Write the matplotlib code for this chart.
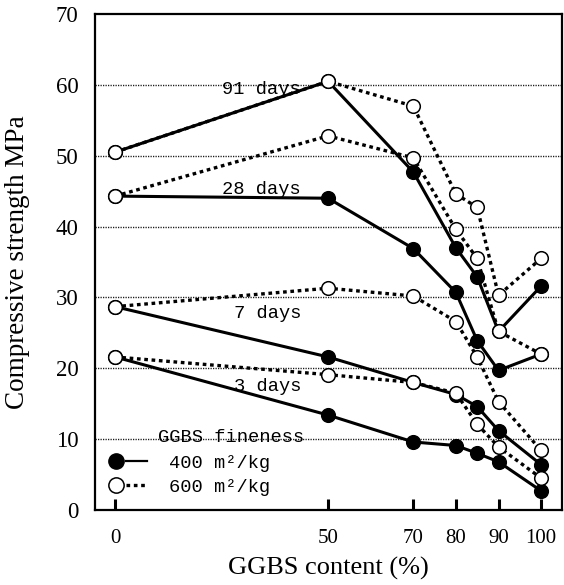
import matplotlib
matplotlib.use("Agg")
import matplotlib.pyplot as plt
from matplotlib.lines import Line2D
from matplotlib.legend_handler import HandlerTuple

# --- datos ---
ggbs = [0, 50, 70, 80, 85, 90, 100]
xticks = [0, 50, 70, 80, 90, 100]

f400_3d = [21.6, 13.4, 9.6, 9.1, 8.0, 6.8, 2.7]
f400_7d = [28.7, 21.6, 18.0, 16.3, 14.6, 11.2, 6.4]
f400_28d = [44.3, 44.0, 36.9, 30.7, 23.9, 19.7, 22.0]
f400_91d = [50.5, 60.5, 47.7, 37.0, 32.9, 25.2, 31.6]

f600_3d = [21.6, 19.1, 18.0, 16.5, 12.1, 8.9, 4.5]
f600_7d = [28.7, 31.3, 30.2, 26.6, 21.6, 15.3, 8.4]
f600_28d = [44.3, 52.8, 49.7, 39.6, 35.5, 25.2, 22.0]
f600_91d = [50.5, 60.5, 57.0, 44.6, 42.7, 30.3, 35.5]

ages = ['3 days', '7 days', '28 days', '91 days']
label_pos = {'91 days': (25, 59.3), '28 days': (25, 45.3),
             '7 days': (28, 27.8), '3 days': (28, 17.4)}

serif = 'Liberation Serif'
mono = 'Liberation Mono'

fig = plt.figure(figsize=(5.64, 5.85), dpi=100)
ax = fig.add_axes([95/564, 1 - 510/585, 467/564, 496/585])

# lineas de rejilla punteadas
for y in range(10, 70, 10):
    ax.axhline(y, color='0.1', lw=1.0, ls=(0, (0.9, 0.9)), zorder=0)

# 400 m2/kg: linea continua, circulo negro
for s in [f400_91d, f400_28d, f400_7d, f400_3d]:
    ax.plot(ggbs, s, color='black', lw=2.2, marker='o', ms=9.8,
            mfc='black', mec='black', mew=1.1, zorder=2)

# 600 m2/kg: linea punteada, circulo blanco
for s in [f600_91d, f600_28d, f600_7d, f600_3d]:
    ax.plot(ggbs, s, color='black', lw=2.4, ls=(0, (1.1, 1.1)),
            marker='o', ms=9.8, mfc='white', mec='black', mew=1.1, zorder=3)

for a in ages:
    x, y = label_pos[a]
    ax.text(x, y, a, family=mono, fontsize=13.5, ha='left', va='center', zorder=4)

# leyenda
ax.text(10.1, 10.2, 'GGBS fineness', family=mono, fontsize=13.5,
        ha='left', va='center', zorder=4)
h400 = (Line2D([], [], ls='none', marker='o', ms=11, mfc='black', mec='black'),
        Line2D([], [], color='black', lw=1.6))
h600 = (Line2D([], [], ls='none', marker='o', ms=11, mfc='white', mec='black', mew=1.1),
        Line2D([], [], color='black', lw=2.4, ls=(0, (1.1, 1.1))))
ax.legend([h400, h600], ['400 m²/kg', '600 m²/kg'],
          handler_map={tuple: HandlerTuple(ndivide=2, pad=0.0)},
          loc='upper left', bbox_to_anchor=(0.022, 0.112), frameon=False,
          prop={'family': mono, 'size': 13.5}, handlelength=2.2,
          handletextpad=1.2, labelspacing=0.38, borderpad=0, borderaxespad=0)

ax.set_xlim(-4.7, 104.9)
ax.set_ylim(0, 70)
ax.set_xticks(xticks)
ax.set_xticklabels([str(t) for t in xticks], family=serif, fontsize=15)
ax.set_yticks(range(0, 80, 10))
ax.set_yticklabels([str(t) for t in range(0, 80, 10)], family=serif, fontsize=16.5)
ax.tick_params(axis='x', direction='in', length=8, width=2.2, pad=14)
ax.tick_params(axis='y', length=0, pad=12)
for sp in ax.spines.values():
    sp.set_linewidth(1.6)

ax.set_xlabel('GGBS content (%)', family=serif, fontsize=19, labelpad=6)
ax.set_ylabel('Compressive strength MPa', family=serif, fontsize=19.5)
ax.yaxis.set_label_coords(-0.14, 0.5)

fig.savefig('out.png', dpi=100)
